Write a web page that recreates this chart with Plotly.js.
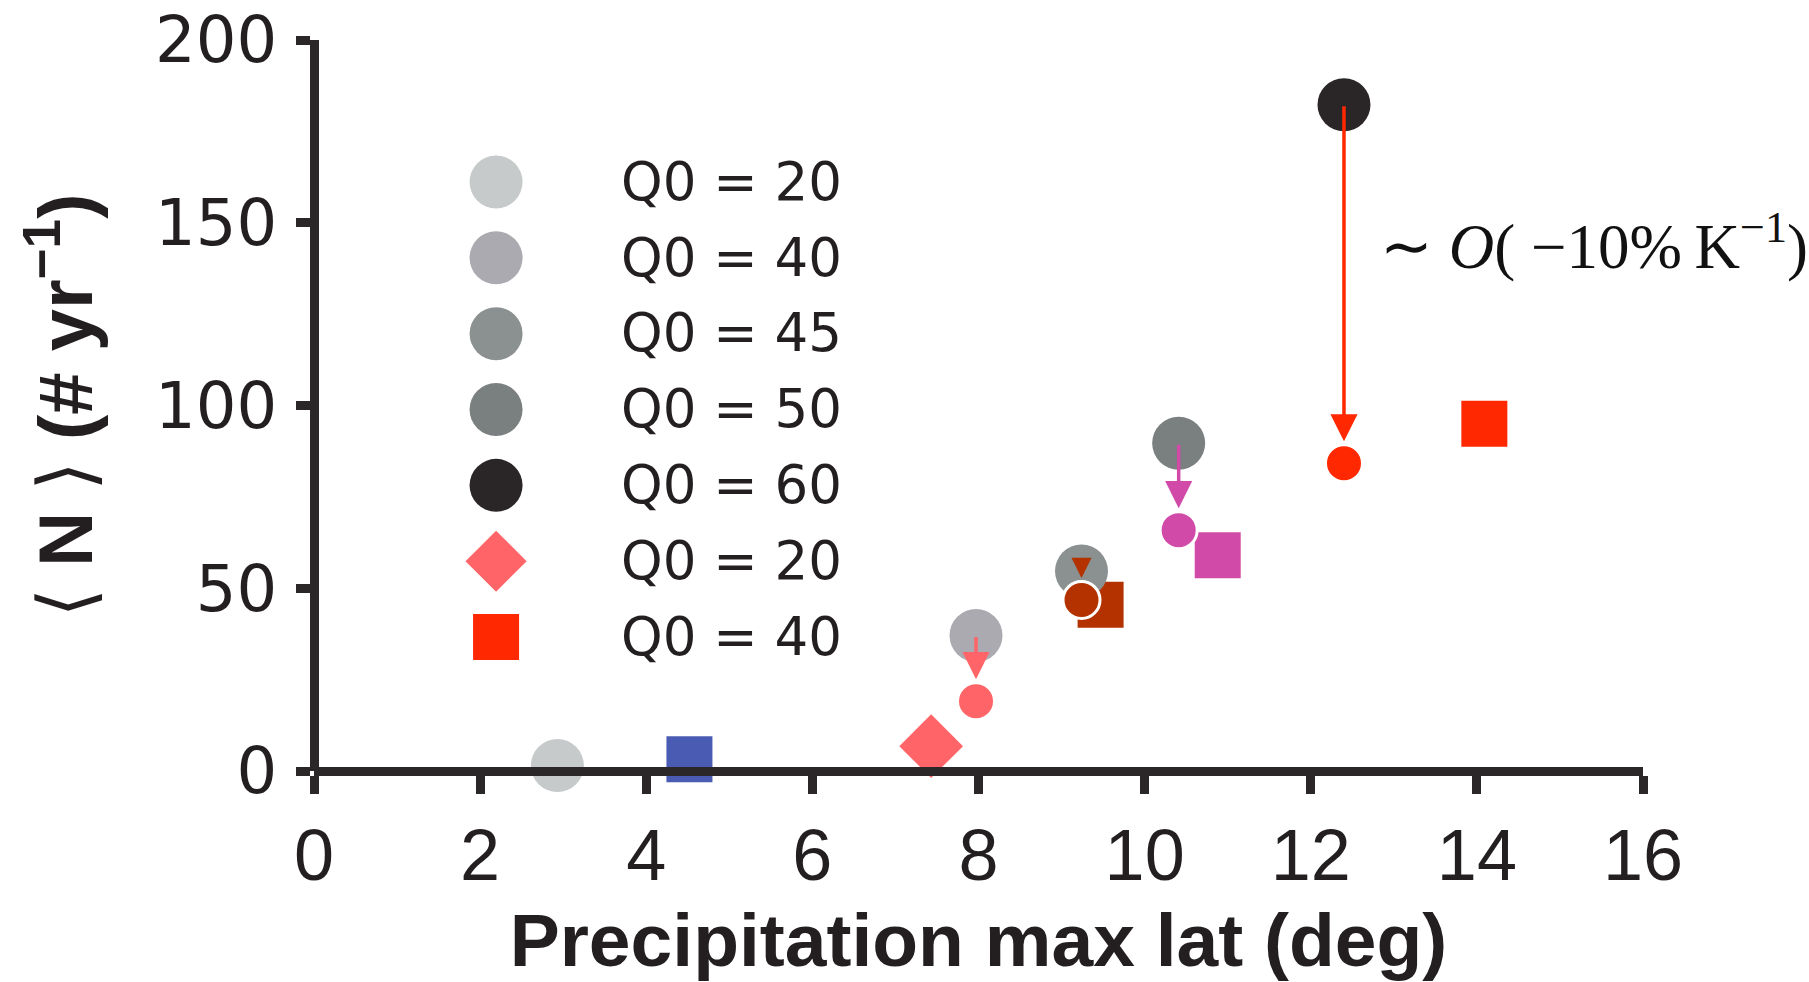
<!DOCTYPE html>
<html>
<head>
<meta charset="utf-8">
<script src="https://cdn.plot.ly/plotly-3.0.1.min.js"></script>
<style>
  html, body { margin: 0; padding: 0; background: #ffffff; }
  #chart { width: 1809px; height: 982px; }
</style>
</head>
<body>
<div id="chart"></div>
<script>
// Control runs: large grey circles, one per Q0 value
const controlLabels = ['Q0 = 20', 'Q0 = 40', 'Q0 = 45', 'Q0 = 50', 'Q0 = 60'];
const controlLat = [2.93, 7.97, 9.24, 10.41, 12.40];
const controlN = [1.5, 37.1, 54.7, 89.7, 182.3];

// Perturbed runs: small circles, paired with the controls at Q0 = 40, 45, 50, 60
const warmLat = [7.97, 9.24, 10.41, 12.40];
const warmN = [19.1, 46.8, 65.9, 84.2];

// Square runs
const squareLat = [4.52, 9.47, 10.88, 14.09];
const squareN = [3.2, 45.5, 59.0, 95.0];

// Diamond run
const diamondLat = [7.43];
const diamondN = [6.8];

// Key entries
const legendLabels = ['Q0 = 20', 'Q0 = 40', 'Q0 = 45', 'Q0 = 50', 'Q0 = 60', 'Q0 = 20', 'Q0 = 40'];

// Axis ticks
const xTicks = [0, 2, 4, 6, 8, 10, 12, 14, 16];
const yTicks = [0, 50, 100, 150, 200];

const scalingLabel = '∼ <i>O</i>( −10%\u2009K<sup>−1</sup>)';

// ---- styling ----
const ink = '#2b2627';
const controlColors = ['#c6cacb', '#abaab0', '#8b9090', '#7a7f80', '#2a2526'];
const warmColors = ['#ff6568', '#b33200', '#d14aa8', '#ff2800'];
const squareColors = ['#4a5bb3', '#b33200', '#d14aa8', '#ff2800'];
const diamondColor = '#ff6568';
// head scale per arrow (the short one needs a smaller head to be drawn)
const arrowHeadScale = [1.55, 1.15, 1.55, 1.55];

const bigCircle = 53, smallCircle = 37, squareSize = 46, diamondSize = 49;

const traces = [
  {
    x: squareLat, y: squareN, type: 'scatter', mode: 'markers', cliponaxis: false,
    marker: { symbol: 'square', size: squareSize, color: squareColors, opacity: 1, line: { width: 0 } },
    hoverinfo: 'x+y'
  },
  {
    x: diamondLat, y: diamondN, type: 'scatter', mode: 'markers', cliponaxis: false,
    marker: { symbol: 'diamond', size: diamondSize, color: diamondColor, opacity: 1, line: { width: 0 } },
    hoverinfo: 'x+y'
  },
  {
    x: controlLat, y: controlN, type: 'scatter', mode: 'markers', cliponaxis: false,
    text: controlLabels,
    marker: { symbol: 'circle', size: bigCircle, color: controlColors, opacity: 1, line: { width: 0 } },
    hoverinfo: 'x+y+text'
  },
  {
    x: warmLat, y: warmN, type: 'scatter', mode: 'markers', cliponaxis: false,
    marker: { symbol: 'circle', size: smallCircle, color: warmColors, opacity: 1, line: { width: 3, color: '#ffffff' } },
    hoverinfo: 'x+y'
  }
];

// Key drawn on its own hidden axes laid over the plot
const keyRows = legendLabels.map((_, i) => i);
const keySymbols = ['circle', 'circle', 'circle', 'circle', 'circle', 'diamond', 'square'];
const keyColors = controlColors.concat([diamondColor, squareColors[3]]);
const keySizes = [bigCircle, bigCircle, bigCircle, bigCircle, bigCircle, 47, squareSize];
const keyMarkerX = 0.137, keyTextX = 0.231, keyTextNudge = 0.06;

traces.push({
  x: keyRows.map(() => keyMarkerX), y: keyRows, xaxis: 'x2', yaxis: 'y2',
  type: 'scatter', mode: 'markers', cliponaxis: false, hoverinfo: 'skip',
  marker: { symbol: keySymbols, size: keySizes, color: keyColors, opacity: 1, line: { width: 0 } }
});
traces.push({
  x: keyRows.map(() => keyTextX), y: keyRows.map(r => r + keyTextNudge), xaxis: 'x2', yaxis: 'y2',
  type: 'scatter', mode: 'text', cliponaxis: false, hoverinfo: 'skip',
  text: legendLabels, textposition: 'middle right',
  textfont: { family: 'DejaVu Sans', size: 53, color: '#231f20' }
});

// Arrows from each control run down to its perturbed run
const annotations = warmLat.map((lat, i) => ({
  x: lat, y: warmN[i], xref: 'x', yref: 'y',
  ax: controlLat[i + 1], ay: controlN[i + 1], axref: 'x', ayref: 'y',
  text: '', showarrow: true, arrowhead: 2, arrowsize: arrowHeadScale[i], arrowwidth: 3.5,
  arrowcolor: warmColors[i], standoff: 22
}));

annotations.push({
  x: 12.81, y: 144.5, xref: 'x', yref: 'y', xanchor: 'left', yanchor: 'middle',
  text: scalingLabel, showarrow: false,
  font: { family: 'Liberation Serif', size: 63, color: '#111111' }
});

const layout = {
  width: 1809, height: 982,
  margin: { l: 314, r: 166, t: 40, b: 211 },
  paper_bgcolor: '#ffffff', plot_bgcolor: '#ffffff',
  showlegend: false,
  xaxis: {
    range: [0, 16], tickvals: xTicks, ticktext: xTicks.map(String),
    anchor: 'free', position: 0,
    showgrid: false, zeroline: false,
    showline: true, linewidth: 9, linecolor: ink, layer: 'above traces',
    ticks: 'outside', ticklen: 18, tickwidth: 9, tickcolor: ink,
    ticklabelstandoff: 0,
    tickfont: { family: 'Liberation Sans', size: 72, color: '#231f20' },
    title: {
      text: 'Precipitation max lat (deg)', standoff: 38,
      font: { family: 'Liberation Sans', size: 75, color: '#231f20', weight: 'bold' }
    }
  },
  yaxis: {
    range: [0, 200], tickvals: yTicks, ticktext: yTicks.map(String),
    anchor: 'free', position: 0,
    showgrid: false, zeroline: false,
    showline: true, linewidth: 9, linecolor: ink, layer: 'above traces',
    ticks: 'outside', ticklen: 14, tickwidth: 9, tickcolor: ink,
    ticklabelstandoff: 6,
    tickfont: { family: 'DejaVu Sans', size: 64, color: '#231f20' },
    title: {
      text: "<span style='font-weight:normal;font-family:DejaVu Sans'>⟨</span> N <span style='font-weight:normal;font-family:DejaVu Sans'>⟩</span> (# yr<sup>−1</sup>)",
      standoff: 36,
      font: { family: 'Liberation Sans', size: 76, color: '#231f20', weight: 'bold' }
    }
  },
  xaxis2: { overlaying: 'x', anchor: 'y2', range: [0, 1], visible: false, fixedrange: true },
  yaxis2: { overlaying: 'y', anchor: 'x2', range: [7.766, -1.872], visible: false, fixedrange: true },
  annotations: annotations
};

Plotly.newPlot('chart', traces, layout, { displayModeBar: false, responsive: false });
</script>
</body>
</html>
